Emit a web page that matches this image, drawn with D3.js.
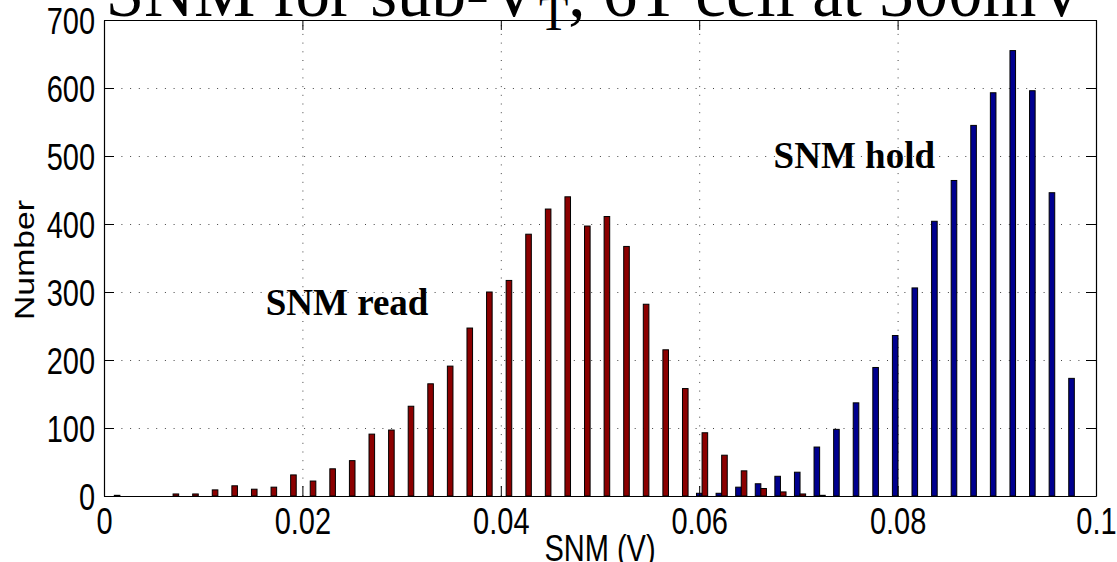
<!DOCTYPE html>
<html>
<head>
<meta charset="utf-8">
<script src="https://cdn.jsdelivr.net/npm/d3@7/dist/d3.min.js"></script>
<style>
  body { margin: 0; background: #fff; }
  svg { display: block; }
</style>
</head>
<body>
<svg id="chart" width="1117" height="562"></svg>
<script>
// histogram bin centres (V)
var binCenters = [
  0.00104, 0.003015, 0.00499, 0.006965, 0.00894, 0.010915, 0.01289, 0.014865, 0.01684, 0.018815,
  0.02079, 0.022765, 0.02474, 0.026715, 0.02869, 0.030665, 0.03264, 0.034615, 0.03659, 0.038565,
  0.04054, 0.042515, 0.04449, 0.046465, 0.04844, 0.050415, 0.05239, 0.054365, 0.05634, 0.058315,
  0.06029, 0.062265, 0.06424, 0.066215, 0.06819, 0.070165, 0.07214, 0.074115, 0.07609, 0.078065,
  0.08004, 0.082015, 0.08399, 0.085965, 0.08794, 0.089915, 0.09189, 0.093865, 0.09584, 0.097815
];
var binWidth = 0.001975;

// SNM hold counts (blue)
var holdCounts = [
  0, 0, 0, 0, 0, 0, 0, 0, 0, 0,
  0, 0, 0, 0, 0, 0, 0, 0, 0, 0,
  0, 0, 0, 0, 0, 0, 0, 0, 0, 0,
  4, 4, 13, 18, 29, 35, 72, 98, 137, 189,
  236, 306, 404, 464, 545, 593, 655, 596, 446, 173
];

// SNM read counts (red)
var readCounts = [
  1, 0, 0, 3, 3, 9, 15, 10, 13, 31,
  22, 40, 52, 91, 97, 132, 165, 191, 247, 300,
  317, 385, 422, 440, 397, 411, 367, 282, 215, 158,
  93, 60, 37, 11, 6, 3, 1, 0, 0, 0,
  0, 0, 0, 0, 0, 0, 0, 0, 0, 0
];

var xTicks = [0, 0.02, 0.04, 0.06, 0.08, 0.1];
var xTickLabels = ["0", "0.02", "0.04", "0.06", "0.08", "0.1"];
var yTicks = [0, 100, 200, 300, 400, 500, 600, 700];

var labels = [
  {text: "SNM read", x: 0.0163, y: 266},
  {text: "SNM hold", x: 0.0675, y: 482}
];

var svg = d3.select("#chart"),
    plotL = 104, plotR = 1096, plotT = 20, plotB = 496,
    sansFont = '"Liberation Sans", Arial, Helvetica, sans-serif',
    serifFont = '"Liberation Serif", "Times New Roman", Times, serif',
    stretch = 1.25,   // axis text in the picture is tall & narrow
    tickLen = 10;

var x = d3.scaleLinear().domain([0, 0.1]).range([plotL, plotR]);
var y = d3.scaleLinear().domain([0, 700]).range([plotB, plotT]);

// dotted grid
var grid = svg.append("g").attr("class", "grid");
grid.append("g")
    .attr("transform", "translate(0," + plotB + ")")
    .call(d3.axisBottom(x).tickValues(xTicks.slice(1, -1)).tickSize(-(plotB - plotT)).tickFormat(""));
grid.append("g")
    .attr("transform", "translate(" + plotL + ",0)")
    .call(d3.axisLeft(y).tickValues(yTicks.slice(1, -1)).tickSize(-(plotR - plotL)).tickFormat(""));
grid.selectAll(".domain").remove();
grid.selectAll("line")
    .attr("stroke", "#444")
    .attr("stroke-width", 1)
    .attr("stroke-dasharray", "1,7.7");

// bars: hold on the left half of each bin, read on the right
var barPx = x(binWidth * 0.285) - x(0);
var bars = svg.append("g");

bars.selectAll("rect.hold")
  .data(binCenters.map(function(c, i) { return {c: c, v: holdCounts[i]}; })
        .filter(function(d) { return d.v > 0; }))
  .enter().append("rect")
    .attr("class", "hold")
    .attr("x", function(d) { return x(d.c) - barPx; })
    .attr("y", function(d) { return y(d.v); })
    .attr("width", barPx)
    .attr("height", function(d) { return y(0) - y(d.v); })
    .attr("fill", "#00008f")
    .attr("stroke", "#000")
    .attr("stroke-width", 1);

bars.selectAll("rect.read")
  .data(binCenters.map(function(c, i) { return {c: c, v: readCounts[i]}; })
        .filter(function(d) { return d.v > 0; }))
  .enter().append("rect")
    .attr("class", "read")
    .attr("x", function(d) { return x(d.c); })
    .attr("y", function(d) { return y(d.v); })
    .attr("width", barPx)
    .attr("height", function(d) { return y(0) - y(d.v); })
    .attr("fill", "#8b0000")
    .attr("stroke", "#000")
    .attr("stroke-width", 1);

// axes, ticks pointing inward on all four sides
var xAxis = svg.append("g")
    .attr("transform", "translate(0," + plotB + ")")
    .call(d3.axisBottom(x).tickValues(xTicks).tickSizeInner(-tickLen).tickSizeOuter(0)
      .tickFormat(function(d, i) { return xTickLabels[i]; }));
xAxis.selectAll("text")
    .attr("y", 38 / stretch)
    .attr("dy", null)
    .attr("transform", "scale(1," + stretch + ")");

var yAxis = svg.append("g")
    .attr("transform", "translate(" + plotL + ",0)")
    .call(d3.axisLeft(y).tickValues(yTicks).tickSizeInner(-tickLen).tickSizeOuter(0));
yAxis.selectAll("text")
    .attr("x", -9)
    .attr("dy", "0.36em")
    .attr("transform", "scale(1," + stretch + ")");

svg.append("g")
    .attr("transform", "translate(0," + plotT + ")")
    .call(d3.axisTop(x).tickValues(xTicks).tickSizeInner(-tickLen).tickSizeOuter(0).tickFormat(""));
svg.append("g")
    .attr("transform", "translate(" + plotR + ",0)")
    .call(d3.axisRight(y).tickValues(yTicks).tickSizeInner(-tickLen).tickSizeOuter(0).tickFormat(""));

svg.selectAll(".domain").attr("stroke", "#000").attr("stroke-width", 1.2);
svg.selectAll(".tick line").filter(function() { return !this.closest(".grid"); })
    .attr("stroke", "#000");
svg.selectAll(".tick text")
    .attr("fill", "#000")
    .style("font-family", sansFont)
    .style("font-size", "29px");

// axis titles
svg.append("text")
    .attr("transform", "translate(600,561) scale(1," + stretch + ")")
    .attr("text-anchor", "middle")
    .style("font-family", sansFont)
    .style("font-size", "29px")
    .text("SNM (V)");

svg.append("text")
    .attr("transform", "translate(34,260) rotate(-90) scale(" + stretch + ",1)")
    .attr("text-anchor", "middle")
    .style("font-family", sansFont)
    .style("font-size", "27px")
    .text("Number");

// title, clipped at the top edge like the original
var title = svg.append("text")
    .attr("x", 596)
    .attr("y", 16)
    .attr("text-anchor", "middle")
    .style("font-family", serifFont)
    .style("font-size", "69px");
title.append("tspan").text("SNM for sub-V");
title.append("tspan").attr("dy", 14).style("font-size", "48px").text("T");
title.append("tspan").attr("dy", -14).text(", 6T cell at 300mV");

// annotations
svg.selectAll("text.note")
  .data(labels)
  .enter().append("text")
    .attr("class", "note")
    .attr("x", function(d) { return x(d.x); })
    .attr("y", function(d) { return y(d.y); })
    .style("font-family", serifFont)
    .style("font-weight", "bold")
    .style("font-size", "37px")
    .text(function(d) { return d.text; });
</script>
</body>
</html>
